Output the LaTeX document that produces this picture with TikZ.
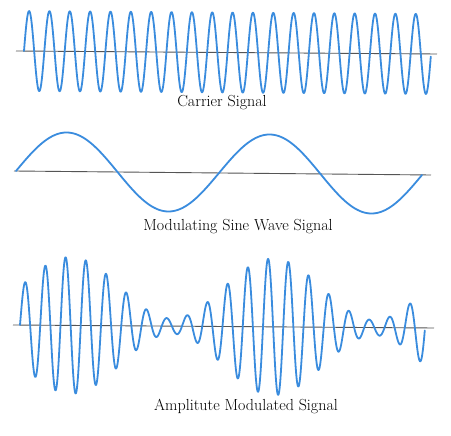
\documentclass[tikz,border=0pt]{standalone}
\usetikzlibrary{calc}
\definecolor{wave}{RGB}{58,140,222}
\definecolor{axisgray}{RGB}{85,85,85}
\tikzset{
  wavestyle/.style={draw=wave, line width=1.8pt, line join=round, line cap=round},
  axisstyle/.style={draw=axisgray, line width=0.9pt},
  caption/.style={font=\fontsize{16}{18}\selectfont, inner sep=0pt, anchor=base}
}
\begin{document}
\begin{tikzpicture}[x=1pt, y=-1pt]
\useasboundingbox[fill=white] (0,0) rectangle (451,436);
% Carrier
\coordinate (c1) at (16,51);
\coordinate (c2) at (437,54);
\draw[axisstyle] (c1) -- (c2);
\draw[wavestyle] plot[domain=0:1, samples=1201, smooth] ({24+407*\x}, {51+3*\x-40*sin(7200*\x)});
\node[caption] (ct) at (222,107) {Carrier Signal};
% Modulating
\coordinate (m1) at (14,171);
\coordinate (m2) at (431,175);
\draw[axisstyle] (m1) -- (m2);
\draw[wavestyle] plot[domain=0:1, samples=401, smooth] ({16+406*\x}, {171+4*\x-39*sin(720*\x)});
\node[caption] (mt) at (238,231) {Modulating Sine Wave Signal};
% AM
\coordinate (a1) at (13,325);
\coordinate (a2) at (434,328);
\draw[axisstyle] (a1) -- (a2);
\draw[wavestyle] plot[domain=0:1, samples=1201, smooth] ({20+405*\x}, {325+3*\x-38*(1+0.8*sin(720*\x))*sin(7200*\x)});
\node[caption] (at) at (246,411) {Amplitute Modulated Signal};
\end{tikzpicture}
\end{document}
